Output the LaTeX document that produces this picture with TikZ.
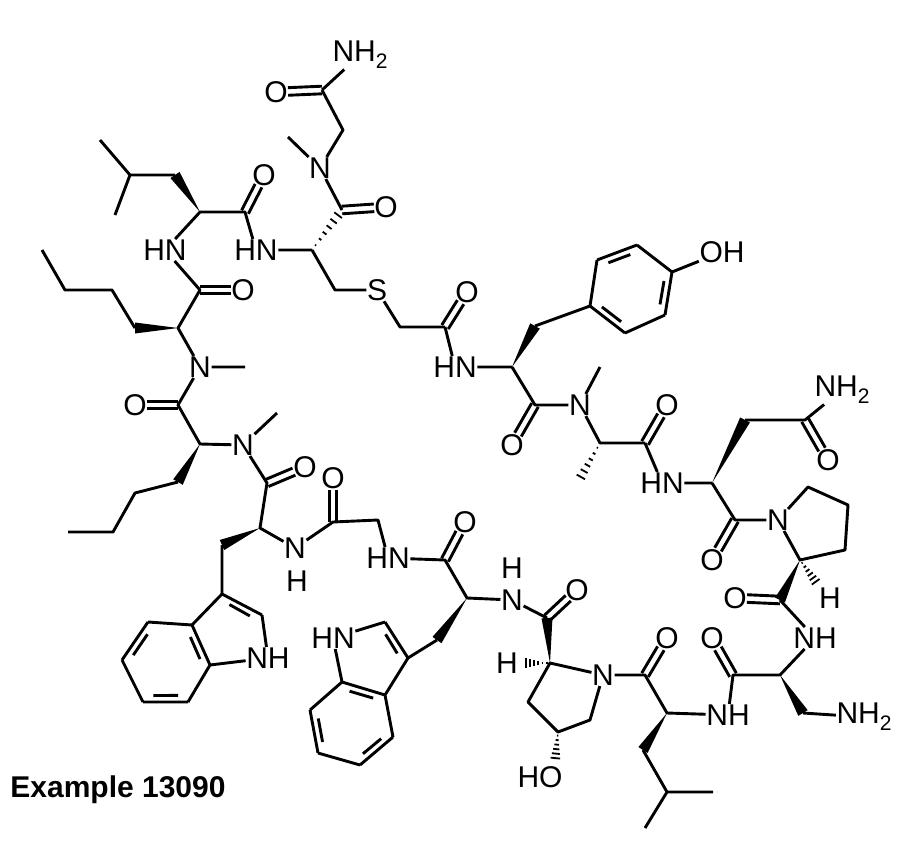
\documentclass[tikz,border=0pt]{standalone}
\usepackage{fontspec}
\setmainfont{Liberation Sans}
\usetikzlibrary{calc}
\tikzset{lab/.style={inner sep=0.5pt,font=\fontsize{30}{32}\selectfont},
bond/.style={line width=2.9pt}}
\newcommand\sub[1]{\raisebox{-7pt}{\fontsize{21}{21}\selectfont #1}}
\newcommand\wdg[2]{\fill ($(#1)$) -- ($(#2)!5.5pt!90:(#1)$) -- ($(#2)!5.5pt!-90:(#1)$) -- cycle;}
\newcommand\hsh[2]{\foreach \t in {0.12,0.27,0.42,0.57,0.72,0.87,1.0}{\draw[line width=1.8pt] ($(#1)!\t!(#2)!{\t*5.5pt}!90:(#2)$) -- ($(#1)!\t!(#2)!{\t*5.5pt}!-90:(#2)$);}}
\newcommand\CO[2]{\draw[bond,shorten >=12pt] ($(#1)!3.8pt!90:(#2)$) -- ($(#2)!3.8pt!-90:(#1)$);\draw[bond,shorten >=12pt] ($(#1)!3.8pt!-90:(#2)$) -- ($(#2)!3.8pt!90:(#1)$);}
\newcommand\ar[3]{\draw[bond] ($($(#1)!.17!(#2)$)!7pt!(#3)$) -- ($($(#2)!.17!(#1)$)!7pt!(#3)$);}
\begin{document}
\begin{tikzpicture}[x=1pt,y=-1pt,line join=round,line cap=butt]
\useasboundingbox (0,0) rectangle (901,851);
% labelled atoms
\node[lab] (NHa) at (360,55) {NH\sub{2}};
\node[lab] (O1) at (276,92) {O};
\node[lab] (N1) at (320,168) {N};
\node[lab] (O2) at (386,207) {O};
\node[lab] (HN1) at (256,250) {HN};
\node[lab] (S) at (377,290) {S};
\node[lab] (O3) at (467,292) {O};
\node[lab] (HN2) at (455,367) {HN};
\node[lab] (OH) at (722,252) {OH};
\node[lab] (O4) at (512,445) {O};
\node[lab] (N2) at (580,405) {N};
\node[lab] (O5) at (667,405) {O};
\node[lab] (HN3) at (662,483) {HN};
\node[lab] (NHb) at (842,390) {NH\sub{2}};
\node[lab] (O6) at (828,460) {O};
\node[lab] (O7) at (712,560) {O};
\node[lab] (N3) at (778,520) {N};
\node[lab] (Hp) at (830,598) {H};
\node[lab] (O8) at (735,598) {O};
\node[lab] (NH4) at (815,638) {NH};
\node[lab] (NHc) at (864,717) {NH\sub{2}};
\node[lab] (O9) at (712,638) {O};
\node[lab] (NH5) at (728,715) {NH};
\node[lab] (O10) at (667,638) {O};
\node[lab] (N4) at (603,675) {N};
\node[lab] (HO) at (540,777) {HO};
\node[lab] (Hh) at (507,663) {H};
\node[lab] (O11) at (577,590) {O};
\node[lab] (N5) at (512,600) {N};
\node[lab] (H5) at (512,568) {H};
\node[lab] (O12) at (465,522) {O};
\node[lab] (HN6) at (388,558) {HN};
\node[lab] (O13) at (333,478) {O};
\node[lab] (N7) at (295,548) {N};
\node[lab] (H7) at (297,581) {H};
\node[lab] (O14) at (305,467) {O};
\node[lab] (N8) at (243,445) {N};
\node[lab] (O15) at (135,405) {O};
\node[lab] (N9) at (200,367) {N};
\node[lab] (O16) at (243,290) {O};
\node[lab] (HN10) at (165,250) {HN};
\node[lab] (O17) at (264,175) {O};
\node[lab] (tN) at (268,658) {NH};
\node[lab] (wN) at (333,638) {HN};
\node[inner sep=0pt,font=\fontsize{30}{32}\selectfont\bfseries] (ex) at (118,790) {Example 13090};
% carbons
\foreach \n/\x/\y in {cA/322/90,cB/343/130,m1/288/137,cC/342/210,cysA/312/250,cysB/335/290,sC/400/327,cD/445/327,
tyrA/512/367,tyrB/535/326,r1/590/306,r2/597/260,r3/637/245,r4/672/272,r5/665/315,r6/625/333,tyrC/535/405,m2/600/367,
alaA/600/443,m3/578/482,cE/645/443,asnA/712/483,asnB/745/420,asnC/805/420,cF/735/520,p1/808/487,p2/848/505,p3/845/550,
proA/800/560,hp/818/585,cG/780/600,dapA/780/675,dapB/803/713,cH/733/675,leuA/667/713,cI/645/675,leuB/643/750,leuC/667/792,
lm3/713/792,lm4/645/828,h1/590/720,h2/558/732,h3/528/702,hypA/550/663,ho/555/762,hh/522/663,cJ/547/618,trpB/467/598,
cK/445/560,gB/378/520,cL/333/522,trpA/260/528,cM/267/483,m4/277/413,nleB/200/444,cN/178/405,m5/245/367,nleA/178/328,
cO/200/290,leuX/200/212,cP/245/212,lB/175/175,lC/130/175,lm1/100/140,lm2/115/215,n1/135/328,n2/112/290,n3/65/290,n4/42/250,
q1/178/482,q2/135/493,q3/113/532,q4/68/532,tB/222/545,t3/222/594,t2/262/615,t7a/210/665,t3a/192/625,b4/148/622,b5/122/660,
b6/143/702,b7/188/702,ct1/232/631,ct2/167/663,wB/437/640,w3/408/658,w2/385/622,w7a/342/682,w3a/385/695,c4/393/737,c5/360/765,
c6/318/753,c7/310/710,cw1/372/659,cw2/351/724,ctr/631/289}
  \coordinate (\n) at (\x,\y);
% single bonds
\draw[bond] (N1)--(m1) (N1)--(cB)--(cA) (cA)--(NHa) (cC)--(N1) (cysA)--(HN1) (cysA)--(cysB)--(S)--(sC)--(cD)
 (cD)--(HN2)--(tyrA) (tyrB)--(r1)--(r2) (r3)--(r4) (r5)--(r6) (r4)--(OH) (tyrA)--(tyrC)--(N2)--(m2) (N2)--(alaA)--(cE)
 (cE)--(HN3)--(asnA) (asnB)--(asnC)--(NHb) (asnA)--(cF)--(N3)--(p1)--(p2)--(p3)--(proA)--(N3)
 (cG)--(NH4)--(dapA)--(cH)--(NH5)--(leuA)--(cI)--(N4) (dapB)--(NHc) (leuB)--(leuC)--(lm3) (leuC)--(lm4)
 (N4)--(h1)--(h2)--(h3)--(hypA)--(N4) (cJ)--(N5)--(trpB)--(cK)--(HN6)--(gB)--(cL)--(N7)--(trpA)--(cM)--(N8)--(m4)
 (N8)--(nleB)--(cN)--(N9)--(m5) (N9)--(nleA)--(cO)--(HN10)--(leuX)--(cP)--(HN1)
 (lB)--(lC)--(lm1) (lC)--(lm2) (n1)--(n2)--(n3)--(n4) (q1)--(q2)--(q3)--(q4)
 (tB)--(t3) (t2)--(tN)--(t7a) (t3a)--(t3) (t3a)--(b4) (b5)--(b6) (b7)--(t7a)
 (wB)--(w3) (w2)--(wN)--(w7a) (w3a)--(w3) (w3a)--(c4) (c5)--(c6) (c7)--(w7a);
% double bonds in rings
\draw[bond] (r2)--(r3) (r4)--(r5) (r6)--(r1) (t3)--(t2) (t7a)--(t3a) (b4)--(b5) (b6)--(b7)
 (w3)--(w2) (w7a)--(w3a) (c4)--(c5) (c6)--(c7);
\ar{r2}{r3}{ctr}\ar{r4}{r5}{ctr}\ar{r6}{r1}{ctr}
\ar{t3}{t2}{ct1}\ar{t7a}{t3a}{ct2}\ar{b4}{b5}{ct2}\ar{b6}{b7}{ct2}
\ar{w3}{w2}{cw1}\ar{w7a}{w3a}{cw2}\ar{c4}{c5}{cw2}\ar{c6}{c7}{cw2}
% carbonyls
\CO{cA}{O1}\CO{cC}{O2}\CO{cD}{O3}\CO{tyrC}{O4}\CO{cE}{O5}\CO{asnC}{O6}\CO{cF}{O7}\CO{cG}{O8}
\CO{cH}{O9}\CO{cI}{O10}\CO{cJ}{O11}\CO{cK}{O12}\CO{cL}{O13}\CO{cM}{O14}\CO{cN}{O15}\CO{cO}{O16}\CO{cP}{O17}
% wedges
\wdg{tyrA}{tyrB}\wdg{asnA}{asnB}\wdg{proA}{cG}\wdg{dapA}{dapB}\wdg{leuA}{leuB}\wdg{hypA}{cJ}\wdg{trpB}{wB}
\wdg{trpA}{tB}\wdg{nleB}{q1}\wdg{nleA}{n1}\wdg{leuX}{lB}
% hashes
\hsh{cysA}{cC}\hsh{alaA}{m3}\hsh{proA}{hp}\hsh{h2}{ho}\hsh{hypA}{hh}
\end{tikzpicture}
\end{document}
